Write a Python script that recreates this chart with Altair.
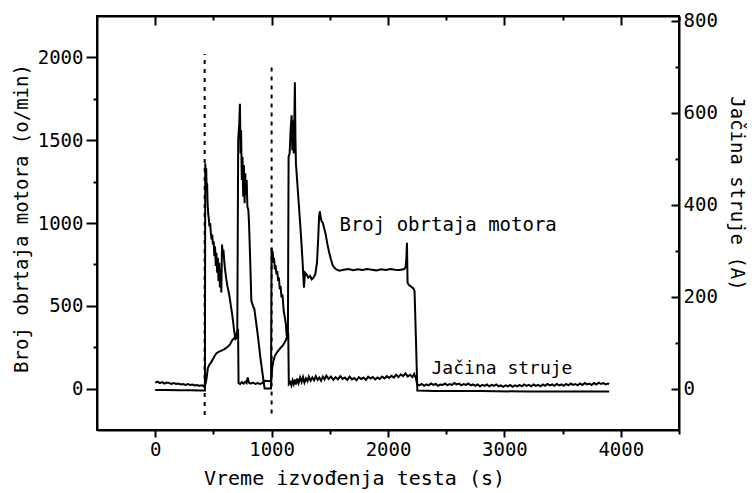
import altair as alt
import pandas as pd

# ---------------- data ----------------
# Motor speed (o/min), left axis
speed_t = [0, 100, 200, 300, 400, 427,
           430, 434, 438, 442, 446, 450, 455, 460, 466, 472, 478, 485, 490, 496, 502, 508, 514, 520, 526,
           532, 538, 544, 550, 556, 562, 568, 574, 580, 586, 592, 600, 609, 620, 635, 648, 661, 670, 678,
           690, 705,
           713, 722, 728, 733, 738, 744, 750, 756, 762, 768, 774, 780, 786, 792, 800, 806, 815, 826, 840,
           852, 880, 905, 930, 940, 995,
           1000, 1004, 1009, 1015, 1021, 1028, 1034, 1042, 1049, 1056, 1063, 1070, 1077, 1085, 1093, 1104,
           1114, 1122, 1130, 1140,
           1146, 1155, 1163, 1172, 1178, 1184, 1190, 1195, 1200, 1205, 1209, 1230, 1250, 1265, 1278, 1287,
           1300, 1315, 1330, 1345, 1360, 1375, 1390, 1400, 1408, 1415, 1422, 1430, 1440, 1455, 1465, 1480,
           1495, 1510, 1525, 1540, 1560, 1583, 1620, 1660, 1700, 1740, 1780, 1820, 1860, 1900, 1940, 1980,
           2020, 2060, 2100, 2140, 2152, 2158, 2163, 2168, 2180, 2200, 2218, 2228, 2240, 2252,
           2400, 2800, 3200, 3600, 3900]
speed_v = [-8, -8, -10, -10, -12, -12,
           1360, 1290, 1330, 1200, 1240, 1120, 1060, 1030, 980, 1000, 940, 900, 930, 870, 890, 800, 860, 740, 820,
           700, 790, 650, 760, 610, 720, 580, 870, 820, 840, 780, 720, 670, 620, 570, 510, 450, 400, 350,
           300, 310,
           1500, 1600, 1720, 1420, 1560, 1260, 1400, 1160, 1350, 1120, 1300, 1170, 1260, 1100, 1080, 1000, 800, 530, 500,
           480, 330, 180, 50, 0, 0,
           850, 800, 830, 760, 790, 720, 745, 690, 710, 650, 670, 600, 620, 550, 570, 470,
           430, 390, 320, 300,
           1400, 1420, 1560, 1650, 1440, 1620, 1420, 1600, 1850, 1500, 1360, 1150, 950, 780, 610, 700,
           690, 670, 680, 660, 670, 690, 760, 900, 1040, 1070, 1030, 1010, 1000, 960, 930, 870,
           820, 780, 745, 730, 718, 712, 718, 722, 715, 720, 716, 722, 718, 714, 720, 716,
           722, 718, 716, 722, 735, 790, 880, 640, 625, 615, 605, 590, 300, -12,
           -15, -15, -18, -18, -18]

# Current (A), right axis
cur_t = [0, 20, 40, 60, 80, 100, 120, 140, 160, 180, 200, 220, 240, 260, 280, 300, 320, 340, 360, 380, 400,
         420, 430, 440, 452, 465, 478, 500, 522, 545, 574, 595, 617, 640, 661, 680, 696, 706, 712,
         716, 730, 745, 760, 775, 785, 795, 805, 820, 840, 860, 880, 900, 920, 935, 950, 970, 990, 998,
         1005, 1015, 1030, 1050, 1075, 1100, 1122, 1135, 1143,
         1148, 1160, 1170, 1180, 1190, 1200, 1210, 1220, 1232, 1245, 1258, 1270, 1282, 1295, 1308, 1320,
         1335, 1350, 1365, 1380, 1395, 1410, 1425, 1440, 1455, 1470, 1490, 1510, 1530, 1550, 1570, 1590,
         1610, 1630, 1650, 1670, 1690, 1710, 1730, 1750, 1770, 1790, 1810, 1830, 1850, 1870, 1890, 1910,
         1930, 1950, 1970, 1990, 2010, 2030, 2050, 2070, 2090, 2110, 2130, 2150, 2170, 2190, 2210, 2225,
         2240, 2250, 2270, 2290, 2310, 2330, 2350, 2370, 2390, 2410, 2430, 2450, 2470, 2490, 2510, 2530,
         2550, 2570, 2590, 2610, 2630, 2650, 2670, 2690, 2710, 2730, 2750, 2770, 2790, 2810, 2830, 2850,
         2870, 2890, 2910, 2930, 2950, 2970, 2990, 3010, 3030, 3050, 3070, 3090, 3110, 3130, 3150, 3170,
         3190, 3210, 3230, 3250, 3270, 3290, 3310, 3330, 3350, 3370, 3390, 3410, 3430, 3450, 3470, 3490,
         3510, 3530, 3550, 3570, 3590, 3610, 3630, 3650, 3670, 3690, 3710, 3730, 3750, 3770, 3790, 3810,
         3830, 3850, 3870, 3890, 3900]
cur_v = [13, 15, 12, 14, 11, 13, 12, 10, 12, 10, 11, 9, 10, 8, 10, 8, 9, 7, 8, 6, 7,
         5, 8, 20, 44, 52, 56, 66, 76, 80, 83, 86, 90, 95, 105, 110, 118, 125, 130,
         12, 10, 14, 11, 15, 12, 24, 13, 11, 13, 10, 12, 10, 12, 16, 17, 16, 17, 18,
         45, 60, 72, 80, 88, 95, 105, 115, 122,
         10, 14, 7, 18, 10, 20, 9, 22, 12, 24, 14, 25, 13, 22, 16, 26,
         17, 24, 18, 27, 19, 24, 17, 26, 20, 28, 21, 26, 19, 25, 20, 27,
         21, 24, 19, 26, 20, 23, 18, 25, 21, 24, 19, 26, 22, 25, 20, 24,
         21, 26, 22, 27, 23, 28, 24, 30, 25, 31, 27, 33, 26, 30, 25, 32,
         22, 10, 7, 10, 6, 9, 7, 11, 8, 10, 6, 9, 8, 11, 7, 10,
         8, 12, 9, 11, 7, 10, 8, 11, 7, 9, 6, 9, 5, 8, 6, 9,
         5, 8, 6, 9, 5, 7, 4, 7, 5, 8, 4, 7, 5, 8, 5, 9,
         6, 8, 5, 9, 6, 8, 5, 9, 6, 10, 7, 9, 6, 10, 7, 9,
         6, 10, 7, 11, 8, 10, 7, 11, 8, 12, 9, 11, 8, 12, 9, 13,
         10, 12, 9, 11, 10]

# dashed vertical markers (in o/min units)
marker_t = [425, 1000]
marker_top = [2020, 1960]
marker_bottom = [-160, -150]

# in-plot labels
label_text = ["Broj obrtaja motora", "Jačina struje"]
label_t = [1583, 2374]
label_v = [952, 90]
label_size = [19, 18]

X_DOMAIN = [-500, 4500]
SPEED_DOMAIN = [-250, 2250]
CUR_DOMAIN = [-90, 810]
FONT = "DejaVu Sans Mono"

speed_df = pd.DataFrame({"t": speed_t, "v": speed_v})
cur_df = pd.DataFrame({"t": cur_t, "a": cur_v})
mark_df = pd.DataFrame({"t": marker_t, "top": marker_top, "bottom": marker_bottom})
lab_df = pd.DataFrame({"t": label_t, "v": label_v, "txt": label_text, "sz": label_size})

x_scale = alt.Scale(domain=X_DOMAIN, nice=False, zero=False)
ys_scale = alt.Scale(domain=SPEED_DOMAIN, nice=False, zero=False)
yc_scale = alt.Scale(domain=CUR_DOMAIN, nice=False, zero=False)

x_axis_bottom = alt.Axis(
    orient="bottom", values=list(range(0, 4501, 500)), format="d",
    labelExpr="datum.value % 1000 === 0 ? datum.label : ''",
    tickSize={"expr": "datum.value % 1000 === 0 ? 7 : 4"},
    labelPadding=3, labelOverlap=False,
    title="Vreme izvođenja testa (s)", titleFontSize=20,
    titleX=257, titleY=48, titleBaseline="middle", titleAlign="center")

y_axis_left = alt.Axis(
    orient="left", values=list(range(0, 2001, 250)), format="d",
    labelExpr="datum.value % 500 === 0 ? datum.label : ''",
    tickSize={"expr": "datum.value % 500 === 0 ? 11 : 4"},
    labelPadding=3, labelOverlap=False,
    title="Broj obrtaja motora (o/min)", titleAngle=270,
    titleX=-76, titleY=202, titleBaseline="middle", titleAlign="center")

x_axis_top = alt.Axis(
    orient="top", values=list(range(0, 4501, 500)), labels=False,
    tickSize={"expr": "datum.value % 1000 === 0 ? -9 : -4"}, title=None)

y_axis_right = alt.Axis(
    orient="right", values=list(range(0, 801, 100)), format="d",
    labelExpr="datum.value % 200 === 0 ? datum.label : ''",
    tickSize={"expr": "datum.value % 200 === 0 ? -8 : -4"},
    labelPadding=12, labelOverlap=False,
    title="Jačina struje (A)", titleAngle=90,
    titleX=57, titleY=177, titleBaseline="middle", titleAlign="center")

speed_line = alt.Chart(speed_df).mark_line(color="black", strokeWidth=2).encode(
    x=alt.X("t:Q", scale=x_scale, axis=x_axis_bottom),
    y=alt.Y("v:Q", scale=ys_scale, axis=y_axis_left),
)

rules = alt.Chart(mark_df).mark_rule(color="black", strokeWidth=2, strokeDash=[4, 5]).encode(
    x=alt.X("t:Q", scale=x_scale, axis=x_axis_bottom),
    y=alt.Y("bottom:Q", scale=ys_scale, axis=y_axis_left),
    y2="top:Q",
)

labels = alt.Chart(lab_df).mark_text(
    align="left", baseline="alphabetic", font=FONT, color="black"
).encode(
    x=alt.X("t:Q", scale=x_scale, axis=x_axis_bottom),
    y=alt.Y("v:Q", scale=ys_scale, axis=y_axis_left),
    text="txt:N",
    size=alt.Size("sz:Q", scale=None, legend=None),
)

left_part = alt.layer(speed_line, rules, labels)

cur_line = alt.Chart(cur_df).mark_line(color="black", strokeWidth=2).encode(
    x=alt.X("t:Q", scale=x_scale, axis=x_axis_top),
    y=alt.Y("a:Q", scale=yc_scale, axis=y_axis_right),
)

chart = alt.layer(left_part, cur_line).resolve_scale(
    x="independent", y="independent"
).properties(
    width=582, height=414,
    autosize=alt.AutoSizeParams(type="none"),
    padding={"left": 89, "top": 8, "right": 68, "bottom": 60},
).configure_axis(
    domainColor="black", domainWidth=2, tickColor="black", tickWidth=2,
    labelColor="black", labelFont=FONT, labelFontSize=19,
    titleFont=FONT, titleFontSize=19, titleFontWeight="normal", titleColor="black",
    grid=False,
).configure_view(stroke="black", strokeWidth=2)

chart.save("out.html", embed_options={"renderer": "svg", "actions": False})
